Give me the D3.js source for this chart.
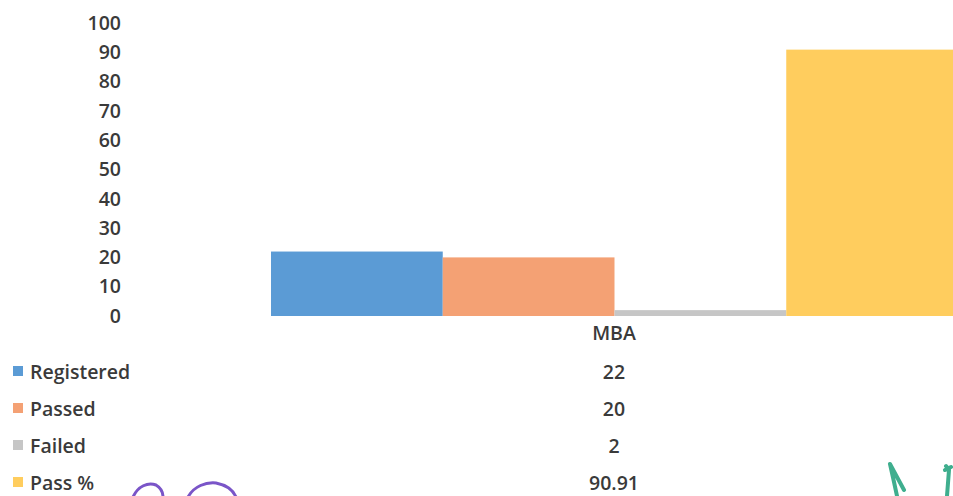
<!DOCTYPE html>
<html>
<head>
<meta charset="utf-8">
<script src="https://cdn.jsdelivr.net/npm/d3@7"></script>
<style>
  html, body { margin: 0; padding: 0; background: #fff; }
  svg { display: block; }
  text { font-family: "Open Sans", Lato, sans-serif; font-weight: 600; fill: #3a3a3a; }
</style>
</head>
<body>
<svg id="chart" width="953" height="496"></svg>
<script>
// Data
const categories = ["MBA"];
const seriesNames = ["Registered", "Passed", "Failed", "Pass %"];
const seriesValues = [22, 20, 2, 90.91];
const valueLabels = ["22", "20", "2", "90.91"];
const seriesColors = ["#5b9bd5", "#f4a174", "#c6c6c6", "#ffcd5e"];
const yTicks = [0, 10, 20, 30, 40, 50, 60, 70, 80, 90, 100];

const svg = d3.select("#chart");
const FONT = "'Open Sans', Lato, sans-serif";
const FS = "19.5px";

const y = d3.scaleLinear().domain([0, 100]).range([316, 23]);
const x = d3.scaleBand().domain(categories).range([271, 958]).padding(0);
const xs = d3.scaleBand().domain(seriesNames).range([0, x.bandwidth()]).padding(0);

// Value axis: labels only, no line or ticks
const yAxis = d3.axisLeft(y).tickValues(yTicks).tickSize(0).tickPadding(0);
const gy = svg.append("g").attr("transform", "translate(121,0)").call(yAxis);
gy.select(".domain").remove();
gy.selectAll("text")
  .style("font-size", FS)
  .style("font-family", FONT)
  .style("font-weight", 600)
  .attr("fill", "#3a3a3a");

// Bars
const rows = seriesNames.map((s, i) => ({ cat: categories[0], name: s, value: seriesValues[i], color: seriesColors[i] }));
svg.append("g").selectAll("rect")
  .data(rows)
  .join("rect")
  .attr("x", d => x(d.cat) + xs(d.name))
  .attr("y", d => y(d.value))
  .attr("width", xs.bandwidth())
  .attr("height", d => y(0) - y(d.value))
  .attr("fill", d => d.color);

// Category axis label
const xAxis = d3.axisBottom(x).tickSize(0).tickPadding(0);
const gx = svg.append("g").attr("transform", "translate(0,326)").call(xAxis);
gx.select(".domain").remove();
gx.selectAll("text")
  .attr("x", -(x.bandwidth() / 2) + (614 - x(categories[0])))
  .style("font-size", FS)
  .style("font-family", FONT)
  .style("font-weight", 600)
  .attr("fill", "#3a3a3a");

// Data table with legend keys
const rowY = d3.scalePoint().domain(seriesNames).range([372, 483]);
const table = svg.append("g");
const tr = table.selectAll("g.row").data(rows).join("g").attr("class", "row");
tr.append("rect")
  .attr("x", 13).attr("y", d => rowY(d.name) - 6)
  .attr("width", 10).attr("height", 10)
  .attr("fill", d => d.color);
tr.append("text")
  .attr("x", 30).attr("y", d => rowY(d.name))
  .attr("dy", "0.35em")
  .style("font-size", FS)
  .text(d => d.name);
tr.append("text")
  .attr("x", 614).attr("y", d => rowY(d.name))
  .attr("dy", "0.35em")
  .attr("text-anchor", "middle")
  .style("font-size", FS)
  .text((d, i) => valueLabels[i]);

// Pen marks along the bottom edge
const ink = svg.append("g").attr("fill", "none").attr("stroke-linecap", "round").attr("stroke-linejoin", "round").attr("stroke-width", 3);
ink.append("path").attr("stroke", "#7a55c8")
  .attr("d", "M133,497 C138,486 148,482 156,485 C161,488 163,493 163,497");
ink.append("path").attr("stroke", "#7a55c8")
  .attr("d", "M188,497 C194,486 206,482 216,483 C226,485 233,490 236,497");
ink.append("path").attr("stroke", "#3fae8e").attr("stroke-width", 4)
  .attr("d", "M890,464 L894,482 L897,496 M890,464 L904,490");
ink.append("path").attr("stroke", "#3fae8e").attr("stroke-width", 4)
  .attr("d", "M946,466 L949,470 L947,496 M945,470 L951,467");
</script>
</body>
</html>
